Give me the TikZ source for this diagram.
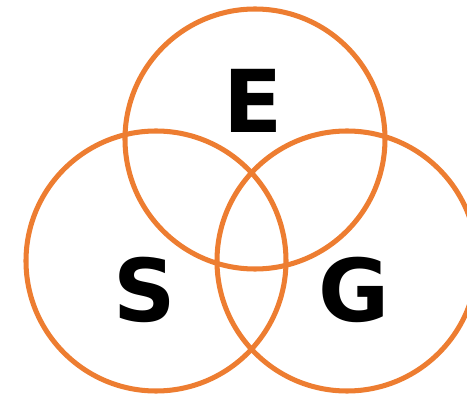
\documentclass[tikz,border=0pt]{standalone}
\usepackage{fontspec}
\usepackage{tikz}
\newfontfamily\lettfont{DejaVu Sans Bold}
\definecolor{vorange}{RGB}{237,125,49}
\tikzset{
  ring/.style={draw=vorange, line width=4.3pt},
  lett/.style={font=\lettfont\fontsize{74}{74}\selectfont, text=black, inner sep=0pt},
}
\begin{document}
\begin{tikzpicture}[x=0.03cm, y=-0.03cm]
  \useasboundingbox (0,0) rectangle (467,397);
  \clip (0,0) rectangle (467,397);
  % circles
  \draw[ring] (255,139) circle[radius=130];
  \draw[ring] (156,261) circle[radius=130];
  \draw[ring] (347,261) circle[radius=130];
  % letters
  \node[lett] (e) at (253.5,101) {E};
  \node[lett] (s) at (145,290) {S};
  \node[lett] (g) at (354.5,290) {G};
\end{tikzpicture}
\end{document}
